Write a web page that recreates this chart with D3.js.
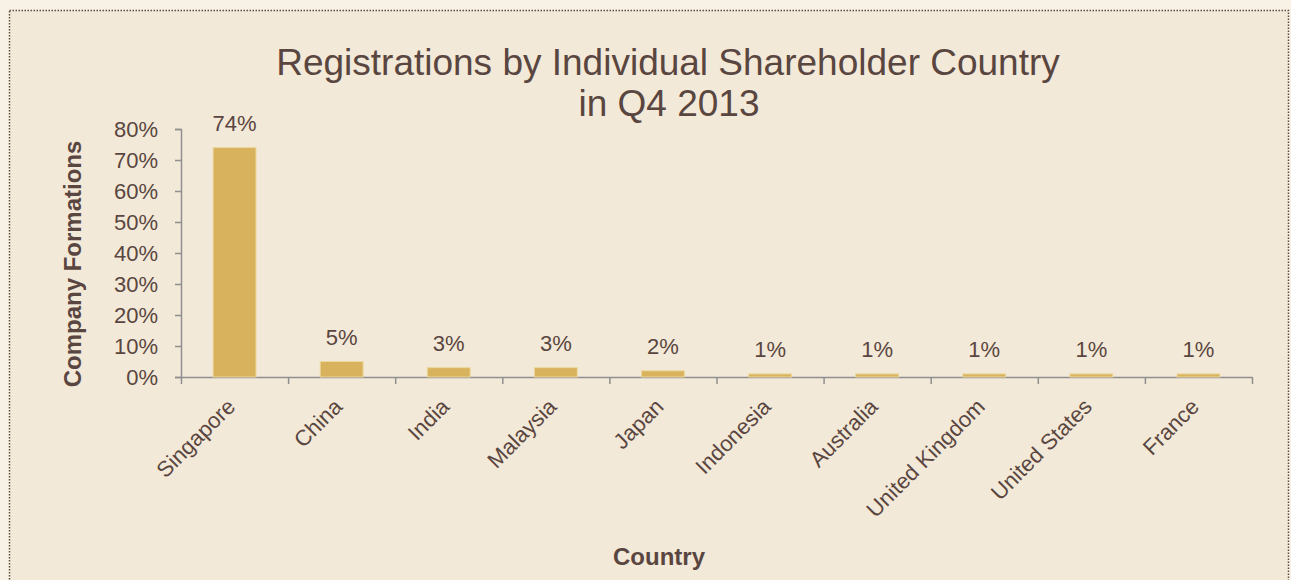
<!DOCTYPE html>
<html>
<head>
<meta charset="utf-8">
<script src="https://cdn.jsdelivr.net/npm/d3@7"></script>
<style>
  body { margin: 0; background: #f8f1e6; }
  text { font-family: "Liberation Sans", Arial, sans-serif; fill: #5a4640; }
</style>
</head>
<body>
<div id="chart"></div>
<script>
// Share of company formations by individual shareholder country
var countries = ["Singapore", "China", "India", "Malaysia", "Japan", "Indonesia",
                 "Australia", "United Kingdom", "United States", "France"];
var shares = [74, 5, 3, 3, 2, 1, 1, 1, 1, 1];
var yTicks = [0, 10, 20, 30, 40, 50, 60, 70, 80];

var W = 1291, H = 580;
var margin = { top: 129, right: 39, bottom: 203, left: 181 },
    width = W - margin.left - margin.right,
    height = H - margin.top - margin.bottom;

var svg = d3.select("#chart").append("svg")
    .attr("width", W).attr("height", H);

// chart area with dotted frame
svg.append("rect")
    .attr("x", 9.5).attr("y", 10.5)
    .attr("width", 1279).attr("height", 600)
    .attr("fill", "#f3e9d8")
    .attr("stroke", "#5e4c3c")
    .attr("stroke-width", 1.5)
    .attr("stroke-dasharray", "1.5,1.5");

var g = svg.append("g")
    .attr("transform", `translate(${margin.left}, ${margin.top})`);

var x = d3.scaleBand().domain(countries).range([0, width]).paddingInner(0.6).paddingOuter(0.3);
var y = d3.scaleLinear().domain([0, 80]).range([height, 0]);

// y axis
var yAxis = g.append("g")
    .call(d3.axisLeft(y).tickValues(yTicks).tickFormat(d => d + "%").tickSizeOuter(6));
yAxis.select(".domain").attr("stroke", "#8f8f8f").attr("stroke-width", 1.5);
yAxis.selectAll(".tick line").attr("stroke", "#8f8f8f").attr("stroke-width", 1.5);
yAxis.selectAll("text").style("font-size", "22px").attr("x", -23).attr("dy", "0.35em")
    .attr("fill", "#5a4640");

// x axis: ticks on category boundaries
var xb = d3.scaleLinear().domain([0, countries.length]).range([0, width]);
var xAxis = g.append("g")
    .attr("transform", `translate(0, ${height})`)
    .call(d3.axisBottom(xb).tickValues(d3.range(countries.length + 1)).tickFormat("").tickSize(7).tickSizeOuter(0));
xAxis.select(".domain").attr("stroke", "#8f8f8f").attr("stroke-width", 1.5);
xAxis.selectAll(".tick line").attr("stroke", "#8f8f8f").attr("stroke-width", 1.5);

// bars
g.selectAll(".bar")
    .data(shares)
    .join("rect")
    .attr("class", "bar")
    .attr("x", (d, i) => x(countries[i]))
    .attr("y", d => y(d))
    .attr("width", x.bandwidth())
    .attr("height", d => height - y(d))
    .attr("fill", "#d8b25c")
    .attr("stroke", "#ecd79c")
    .attr("stroke-width", 1);

// value labels
g.selectAll(".val")
    .data(shares)
    .join("text")
    .attr("class", "val")
    .attr("x", (d, i) => x(countries[i]) + x.bandwidth() / 2)
    .attr("y", d => y(d) - 17)
    .attr("text-anchor", "middle")
    .style("font-size", "22px")
    .text(d => d + "%");

// category labels, rotated
g.selectAll(".cat")
    .data(countries)
    .join("text")
    .attr("class", "cat")
    .attr("text-anchor", "end")
    .attr("transform", d => `translate(${x(d) + x.bandwidth() / 2 + 2}, ${height + 31}) rotate(-45)`)
    .style("font-size", "22px")
    .text(d => d);

// titles
svg.append("text")
    .attr("x", 668).attr("y", 75)
    .attr("text-anchor", "middle")
    .style("font-size", "37px")
    .text("Registrations by Individual Shareholder Country");
svg.append("text")
    .attr("x", 669).attr("y", 116)
    .attr("text-anchor", "middle")
    .style("font-size", "37px")
    .text("in Q4 2013");

svg.append("text")
    .attr("transform", `translate(81, 264) rotate(-90)`)
    .attr("text-anchor", "middle")
    .style("font-size", "24px")
    .style("font-weight", "bold")
    .text("Company Formations");

svg.append("text")
    .attr("x", 659).attr("y", 565)
    .attr("text-anchor", "middle")
    .style("font-size", "24px")
    .style("font-weight", "bold")
    .text("Country");
</script>
</body>
</html>
